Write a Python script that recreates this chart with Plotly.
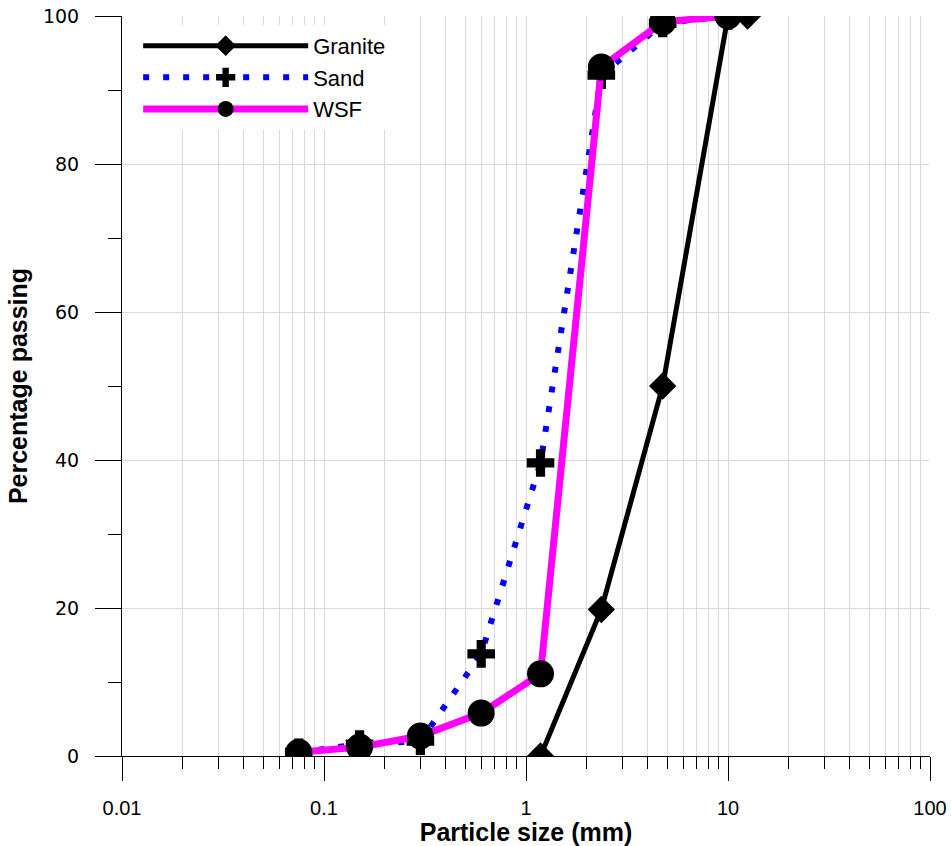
import plotly.graph_objects as go

# Data
sizes = [0.075, 0.15, 0.3, 0.6, 1.18, 2.36, 4.75, 10]
granite_x = [1.18, 2.36, 4.75, 10, 12.5]
granite_y = [0, 19.8, 50, 100, 100]
sand_y = [0.5, 1.6, 2.0, 13.8, 39.6, 92.0, 99.0, 100]
wsf_y = [0.5, 1.2, 2.7, 5.8, 11.1, 93.1, 99.2, 100]

x_major = [0.01, 0.1, 1, 10, 100]
x_labels = ["0.01", "0.1", "1", "10", "100"]
x_minor = [d * k for d in [0.01, 0.1, 1, 10] for k in range(2, 10)]

FONT = "Arial, Liberation Sans, sans-serif"

fig = go.Figure()
fig.add_trace(go.Scatter(
    x=granite_x, y=granite_y, name="Granite", mode="lines+markers",
    line=dict(color="black", width=5),
    marker=dict(symbol="diamond", size=21, color="black"),
))
fig.add_trace(go.Scatter(
    x=sizes, y=sand_y, name="Sand", mode="lines+markers",
    line=dict(color="#0000ff", width=6, dash="6px,14px"),
    marker=dict(symbol="cross", size=23, color="black"),
))
fig.add_trace(go.Scatter(
    x=sizes, y=wsf_y, name="WSF", mode="lines+markers",
    line=dict(color="#ff00ff", width=7),
    marker=dict(symbol="circle", size=27, color="black"),
))

fig.update_layout(
    width=951, height=846,
    margin=dict(l=122, r=21, t=16, b=90),
    paper_bgcolor="white", plot_bgcolor="white",
    font=dict(family=FONT, color="black"),
    showlegend=True,
    legend=dict(
        x=0.02, y=0.988, xanchor="left", yanchor="top",
        bgcolor="white", borderwidth=0,
        font=dict(size=22, family=FONT),
        itemwidth=165, tracegroupgap=0,
    ),
)

fig.update_xaxes(
    type="log", range=[-2, 2], automargin=False,
    tickvals=x_major, ticktext=x_labels,
    ticks="outside", ticklen=24, tickcolor="black", tickwidth=1,
    showline=True, linecolor="black", linewidth=1,
    showgrid=True, gridcolor="#d9d9d9", gridwidth=1,
    tickfont=dict(size=20, family=FONT),
    ticklabelstandoff=10,
    minor=dict(tickvals=x_minor, ticks="outside", ticklen=12, tickcolor="black",
               showgrid=True, gridcolor="#d9d9d9", gridwidth=1),
    title=dict(text="<b>Particle size (mm)</b>", font=dict(size=25, family=FONT), standoff=6),
    zeroline=False,
)
fig.update_yaxes(
    range=[0, 100], dtick=20, tick0=0, automargin=False,
    ticks="outside", ticklen=26, tickcolor="black", tickwidth=1,
    showline=True, linecolor="black", linewidth=1,
    showgrid=True, gridcolor="#d9d9d9", gridwidth=1,
    tickfont=dict(size=19, family="DejaVu Sans, sans-serif"),
    ticklabelstandoff=12,
    minor=dict(dtick=10, ticks="outside", ticklen=13, tickcolor="black", showgrid=False),
    title=dict(text="<b>Percentage passing</b>", font=dict(size=25, family=FONT), standoff=8),
    zeroline=False,
)

fig.write_html("out.html")
